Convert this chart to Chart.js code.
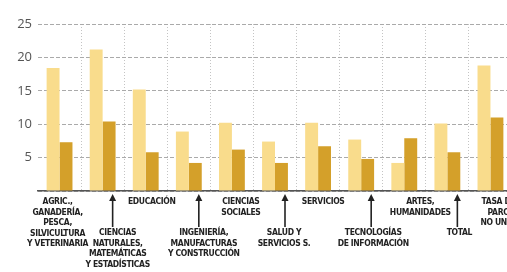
<!DOCTYPE html>
<html>
<head>
<meta charset="utf-8">
<script src="https://cdn.jsdelivr.net/npm/chart.js@4/dist/chart.umd.min.js"></script>
<style>
    html, body { margin: 0; padding: 0; background: #fff; overflow: hidden; }
    #wrap { position: relative; width: 512px; height: 272px; }
</style>
</head>
<body>
<div id="wrap"><canvas id="graficoParo"></canvas></div>
<script>
const categorias = [
    ["AGRIC.,", "GANADERÍA,", "PESCA,", "SILVICULTURA", "Y VETERINARIA"],
    ["CIENCIAS", "NATURALES,", "MATEMÁTICAS", "Y ESTADÍSTICAS"],
    ["EDUCACIÓN"],
    ["INGENIERÍA,", "MANUFACTURAS", "Y CONSTRUCCIÓN"],
    ["CIENCIAS", "SOCIALES"],
    ["SALUD Y", "SERVICIOS S."],
    ["SERVICIOS"],
    ["TECNOLOGÍAS", "DE INFORMACIÓN"],
    ["ARTES,", "HUMANIDADES"],
    ["TOTAL"],
    ["TASA DE", "PARO", "NO UNIV."],
];

const serieClara = [18.4, 21.2, 15.2, 8.9, 10.2, 7.4, 10.2, 7.7, 4.2, 10.1, 18.8];
const serieOscura = [7.3, 10.4, 5.8, 4.2, 6.2, 4.2, 6.7, 4.8, 7.9, 5.8, 11.0];

const ticksY = [5, 10, 15, 20, 25];

// desplazamiento horizontal de cada etiqueta (a mano, como en el original)
const desplaz = [-2, 15, 6, 15, 9, 9, 5, 12, 16, 12, 8];

const etiquetasEjeX = {
    id: "etiquetasEjeX",
    afterDraw(chart) {
        const ctx = chart.ctx;
        const x = chart.scales.x;
        const base = chart.chartArea.bottom;
        ctx.save();
        ctx.strokeStyle = "#222";
        ctx.fillStyle = "#222";
        ctx.lineWidth = 1.6;
        ctx.font = "bold 8.5px 'DejaVu Sans Condensed', 'Liberation Sans', sans-serif";
        ctx.letterSpacing = "-0.35px";
        ctx.textAlign = "center";
        ctx.textBaseline = "top";
        categorias.forEach((lineas, i) => {
            const cx = x.getPixelForValue(i);
            const abajo = i % 2 === 1;
            const y0 = base + 7 + (abajo ? 31 : 0);
            lineas.forEach((t, j) => ctx.fillText(t, cx + desplaz[i], y0 + j * 10.5));
            if (!abajo) return;
            // flecha hacia la barra
            const px = cx + 10;
            ctx.beginPath();
            ctx.moveTo(px, base + 36);
            ctx.lineTo(px, base + 9);
            ctx.stroke();
            ctx.beginPath();
            ctx.moveTo(px, base + 3);
            ctx.lineTo(px - 3.5, base + 10);
            ctx.lineTo(px + 3.5, base + 10);
            ctx.closePath();
            ctx.fill();
        });
        ctx.restore();
    },
};

const dataGrafico = {
    labels: categorias.map((c) => c.join(" ")),
    datasets: [
        {
            label: "A",
            backgroundColor: "#f9dc8c",
            data: serieClara,
        },
        {
            label: "B",
            backgroundColor: "#d4a02a",
            data: serieOscura,
        },
    ],
};

const configGrafico = {
    type: "bar",
    data: dataGrafico,
    options: {
        responsive: true,
        maintainAspectRatio: false,
        animation: false,
        layout: { padding: { top: 24, right: 0, left: 0, bottom: 0 } },
        datasets: {
            bar: { categoryPercentage: 0.6, barPercentage: 1.0 },
        },
        plugins: {
            legend: { display: false },
            tooltip: { enabled: false },
        },
        scales: {
            x: {
                afterFit(scale) {
                    scale.height = 81;
                    scale.paddingLeft = 0;
                    scale.paddingRight = 0;
                },
                grid: {
                    offset: true,
                    drawTicks: false,
                    color: (c) => (c.index === 0 ? "rgba(0,0,0,0)" : "#c4c4c4"),
                    lineWidth: 1,
                },
                border: { display: true, color: "#555", width: 1.5, dash: [1, 2] },
                ticks: { display: false },
            },
            y: {
                min: 0,
                max: 25,
                afterFit(scale) { scale.width = 38; },
                afterBuildTicks(scale) {
                    scale.ticks = [0].concat(ticksY).map((v) => ({ value: v }));
                },
                grid: {
                    drawTicks: false,
                    color: "#aaa",
                    lineWidth: 1,
                },
                border: { display: false, dash: [4, 2] },
                ticks: {
                    padding: 6,
                    color: "#555",
                    font: { family: "Open Sans", size: 13 },
                    callback: (v) => (v === 0 ? "" : v),
                },
            },
        },
    },
    plugins: [etiquetasEjeX],
};

const grafico = new Chart(document.getElementById("graficoParo"), configGrafico);
</script>
</body>
</html>
